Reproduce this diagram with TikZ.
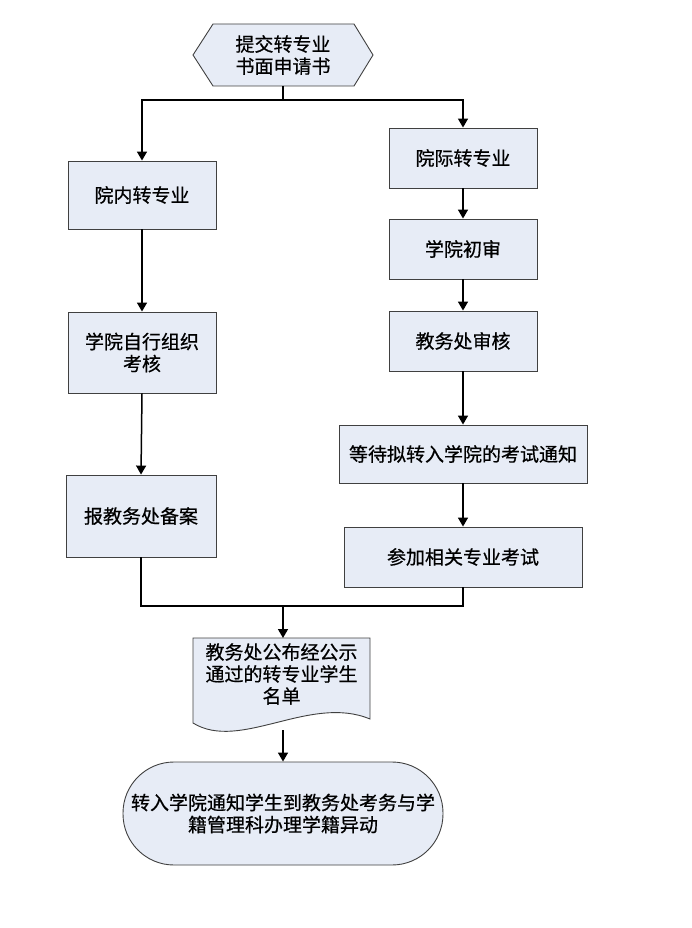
\documentclass[tikz,border=0pt]{standalone}
\usepackage{fontspec}
\newfontfamily\cjk[FakeBold=0.6]{Noto Sans CJK SC}
\usetikzlibrary{arrows.meta,calc}
\definecolor{boxfill}{HTML}{E7ECF6}
\definecolor{boxline}{HTML}{404040}
\begin{document}
\begin{tikzpicture}[x=1pt,y=-1pt,
  every node/.style={font=\cjk\fontsize{19pt}{22pt}\selectfont, align=center, inner sep=0pt},
  stepbox/.style={draw=boxline, fill=boxfill, line width=0.9pt},
  link/.style={line width=1.5pt, black},
  arr/.style={link, -{Triangle[width=10pt,length=9pt]}}]
\useasboundingbox (0,0) rectangle (691,928);
% start hexagon
\fill[boxfill] (193,55)--(213,24)--(354,24)--(373,55)--(354,86)--(213,86)--cycle;
\draw[boxline, line width=0.9pt] (193,55)--(213,24)--(354,24)--(373,55)--(354,86)--(213,86)--cycle;
\node[minimum width=140pt, minimum height=62pt] (start) at (283,55) {提交转专业\\书面申请书};
\coordinate (split) at (283,100);
% left column
\node[stepbox, minimum width=148pt, minimum height=68pt] (n1) at (142,195) {院内转专业};
\node[stepbox, minimum width=148pt, minimum height=81pt] (n2) at (142,352.5) {学院自行组织\\考核};
\node[stepbox, minimum width=150pt, minimum height=82pt] (n3) at (141,516) {报教务处备案};
% right column
\node[stepbox, minimum width=148pt, minimum height=60pt] (r1) at (463,158) {院际转专业};
\node[stepbox, minimum width=148pt, minimum height=60pt] (r2) at (463,249) {学院初审};
\node[stepbox, minimum width=148pt, minimum height=60pt] (r3) at (463,341) {教务处审核};
\node[stepbox, minimum width=248pt, minimum height=58pt] (r4) at (463,454) {等待拟转入学院的考试通知};
\node[stepbox, minimum width=238pt, minimum height=60pt] (r5) at (463,557) {参加相关专业考试};
\coordinate (merge) at (283,606);
% document shape
\draw[stepbox] (193,638) -- (193,723) .. controls (240,752) and (310,694) .. (370,719) -- (370,638) -- cycle;
\node[minimum width=177pt, minimum height=80pt] (doc) at (281.5,674) {教务处公布经公示\\通过的转专业学生\\名单};
\coordinate (docb) at (283,730);
% terminal
\node[stepbox, rounded corners=51pt, minimum width=320pt, minimum height=103pt] (end) at (283,813.5) {转入学院通知学生到教务处考务与学\\籍管理科办理学籍异动};
% connectors
\draw[link] (start.south) -- (split);
\draw[arr] (split) -| (n1.north);
\draw[arr] (split) -| (r1.north);
\draw[arr] (n1.south) -- (n2.north);
\draw[arr] (n2.south) -- (n3.north);
\draw[arr] (r1.south) -- (r2.north);
\draw[arr] (r2.south) -- (r3.north);
\draw[arr] (r3.south) -- (r4.north);
\draw[arr] (r4.south) -- (r5.north);
\draw[link] (n3.south) |- (merge);
\draw[link] (r5.south) |- (merge);
\draw[arr] (merge) -- (283,638);
\draw[arr] (docb) -- (end.north);
\end{tikzpicture}
\end{document}
